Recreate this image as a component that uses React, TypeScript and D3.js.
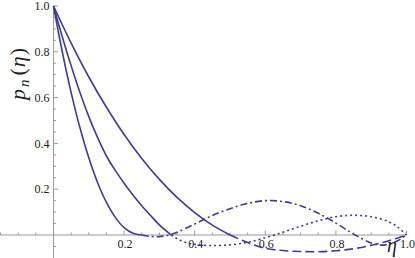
import React from "react";
import * as d3 from "d3";

// n = 2 (outer curve): solid up to first zero, dashed tail
const etaSolid2 = [0, 0.05, 0.1, 0.15, 0.2, 0.25, 0.3, 0.35, 0.4, 0.45, 0.5];
const p2Solid = [1, 0.838, 0.69, 0.558, 0.439, 0.334, 0.243, 0.164, 0.098, 0.043, 0];
const etaTail2 = [0.5, 0.55, 0.6, 0.65, 0.7, 0.75, 0.8, 0.85, 0.9, 0.95, 1];
const p2Tail = [0, -0.033, -0.058, -0.068, -0.072, -0.073, -0.069, -0.06, -0.045, -0.025, 0];

// n = 3 (middle curve): solid, dotted tail
const etaSolid3 = [0, 0.025, 0.05, 0.075, 0.1, 0.125, 0.15, 0.175, 0.2, 0.225, 0.25, 0.275, 0.3, 0.3333];
const p3Solid = [1, 0.865, 0.739, 0.622, 0.517, 0.425, 0.345, 0.282, 0.226, 0.175, 0.128, 0.085, 0.044, 0];
const etaTail3 = [0.3333, 0.35, 0.375, 0.4, 0.45, 0.5, 0.55, 0.6, 0.65, 0.7, 0.75, 0.8, 0.85, 0.9, 0.95, 0.975, 1];
const p3Tail = [0, -0.016, -0.033, -0.041, -0.046, -0.043, -0.032, -0.012, 0.012, 0.038, 0.062, 0.08, 0.086, 0.08, 0.058, 0.035, 0];

// n = 4 (inner curve): solid, dot-dashed tail
const etaSolid4 = [0, 0.025, 0.05, 0.075, 0.1, 0.125, 0.15, 0.175, 0.2, 0.225, 0.25];
const p4Solid = [1, 0.799, 0.622, 0.468, 0.337, 0.228, 0.142, 0.077, 0.032, 0.0074, 0];
const etaTail4 = [0.25, 0.275, 0.3, 0.325, 0.35, 0.4, 0.45, 0.5, 0.55, 0.6, 0.65, 0.7, 0.75, 0.8, 0.85, 0.9, 0.925, 0.95, 0.975, 1];
const p4Tail = [0, -0.006, -0.007, -0.001, 0.012, 0.048, 0.085, 0.115, 0.138, 0.15, 0.146, 0.128, 0.095, 0.052, 0.004, -0.035, -0.044, -0.04, -0.025, 0];

const xMajor = [0.2, 0.4, 0.6, 0.8, 1.0];
const yMajor = [0.2, 0.4, 0.6, 0.8, 1.0];
const xTickLabels = ["0.2", "0.4", "0.6", "0.8", "1.0"];
const yTickLabels = ["0.2", "0.4", "0.6", "0.8", "1.0"];

const W = 415;
const H = 258;
const BLUE = "#3d3d99";
const AXIS = "#999999";
const SERIF = "'Liberation Serif', 'Times New Roman', serif";

export default function App() {
  const x = d3.scaleLinear().domain([0, 1]).range([53.5, 406.5]);
  const y = d3.scaleLinear().domain([0, 1]).range([235, 6]);

  const line = d3
    .line<[number, number]>()
    .x((d) => x(d[0]))
    .y((d) => y(d[1]))
    .curve(d3.curveCatmullRom.alpha(0.5));

  const zip = (a: number[], b: number[]) => a.map((v, i) => [v, b[i]] as [number, number]);

  const series = [
    { d: zip(etaSolid2, p2Solid), dash: undefined },
    { d: zip(etaSolid3, p3Solid), dash: undefined },
    { d: zip(etaSolid4, p4Solid), dash: undefined },
    { d: zip(etaTail2, p2Tail), dash: "9,4" },
    { d: zip(etaTail3, p3Tail), dash: "2,3" },
    { d: zip(etaTail4, p4Tail), dash: "7,3,2,3" },
  ];

  const xMinor: number[] = [];
  for (let i = -3; i <= 20; i++) {
    if (i % 4 !== 0) xMinor.push(i * 0.05);
  }
  const yMinor: number[] = [];
  for (let i = -1; i <= 20; i++) {
    if (i % 4 !== 0) yMinor.push(i * 0.05);
  }

  return (
    <svg width={W} height={H} style={{ position: "absolute", left: 0, top: 0 }}>
      <rect width={W} height={H} fill="white" />
      {/* axes */}
      <line x1={0} x2={x(1)} y1={y(0)} y2={y(0)} stroke={AXIS} strokeWidth={1} />
      <line x1={x(0)} x2={x(0)} y1={y(1)} y2={H} stroke={AXIS} strokeWidth={1} />
      {xMinor.map((v, i) => (
        <line key={"xm" + i} x1={x(v)} x2={x(v)} y1={y(0)} y2={y(0) - 2.5} stroke={AXIS} />
      ))}
      {xMajor.map((v, i) => (
        <line key={"xM" + i} x1={x(v)} x2={x(v)} y1={y(0)} y2={y(0) - 4.5} stroke={AXIS} />
      ))}
      {yMinor.map((v, i) => (
        <line key={"ym" + i} x1={x(0)} x2={x(0) + 2.5} y1={y(v)} y2={y(v)} stroke={AXIS} />
      ))}
      {yMajor.map((v, i) => (
        <line key={"yM" + i} x1={x(0)} x2={x(0) + 4.5} y1={y(v)} y2={y(v)} stroke={AXIS} />
      ))}
      {xMajor.map((v, i) => (
        <text key={"xl" + i} x={x(v) + 1} y={248} textAnchor="middle" fontFamily={SERIF} fontSize={12} fill="#222">
          {xTickLabels[i]}
        </text>
      ))}
      {yMajor.map((v, i) => (
        <text key={"yl" + i} x={49.5} y={y(v)} dy="0.35em" textAnchor="end" fontFamily={SERIF} fontSize={12} fill="#222">
          {yTickLabels[i]}
        </text>
      ))}
      {/* curves */}
      {series.map((s, i) => (
        <path
          key={"c" + i}
          d={line(s.d) || ""}
          fill="none"
          stroke={BLUE}
          strokeWidth={1.6}
          strokeDasharray={s.dash}
        />
      ))}
      {/* axis labels */}
      <text x={392} y={252} textAnchor="middle" fontFamily={SERIF} fontSize={20} fontStyle="italic" fill="#222">
        η
      </text>
      <text
        transform="translate(25,74) rotate(-90)"
        textAnchor="middle"
        fontFamily={SERIF}
        fontSize={22}
        fill="#222"
      >
        <tspan fontStyle="italic">p</tspan>
        <tspan fontStyle="italic" fontSize={15} dy={4} dx={2}>n</tspan>
        <tspan dy={-4} dx={4}>(</tspan>
        <tspan fontStyle="italic" dx={1}>η</tspan>
        <tspan dx={1}>)</tspan>
      </text>
    </svg>
  );
}
